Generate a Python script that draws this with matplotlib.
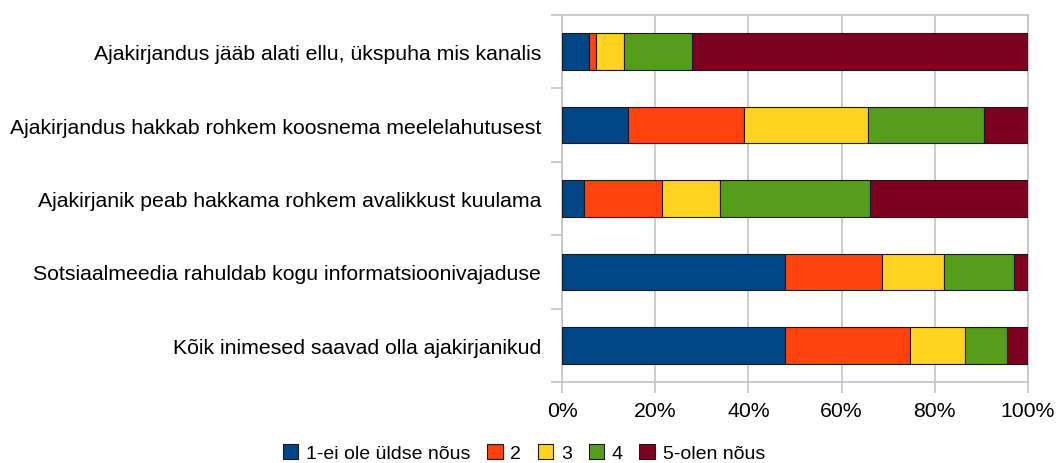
import numpy as np
import matplotlib
matplotlib.use("Agg")
import matplotlib.pyplot as plt
from matplotlib.ticker import FixedLocator, PercentFormatter

plt.rcParams['font.family'] = ['Liberation Sans', 'DejaVu Sans']

# statements, top to bottom
labels = [
    "Ajakirjandus jääb alati ellu, ükspuha mis kanalis",
    "Ajakirjandus hakkab rohkem koosnema meelelahutusest",
    "Ajakirjanik peab hakkama rohkem avalikkust kuulama",
    "Sotsiaalmeedia rahuldab kogu informatsioonivajaduse",
    "Kõik inimesed saavad olla ajakirjanikud",
]
series_names = ["1-ei ole üldse nõus", "2", "3", "4", "5-olen nõus"]

# share of answers (%), one list per answer level
s1 = [5.9, 14.1, 4.7, 47.8, 47.8]
s2 = [1.5, 25.0, 16.8, 20.9, 26.8]
s3 = [5.8, 26.5, 12.4, 13.3, 11.9]
s4 = [14.8, 25.0, 32.3, 15.0, 8.9]
s5 = [72.0, 9.4, 33.8, 3.0, 4.6]

colors = ['#004586', '#FF420E', '#FFD320', '#579D1C', '#7E0021']
GRID = '#c4c4c4'
FS = 15.3

fig = plt.figure(figsize=(10.56, 4.64), dpi=100)
ax = fig.add_axes([562/1056, 1 - 383/464, 466/1056, 367/464])

y = np.arange(len(labels))
left = np.zeros(len(labels))
for vals, name, c in zip([s1, s2, s3, s4, s5], series_names, colors):
    ax.barh(y, vals, left=left, height=0.5, color=c, edgecolor='#1a1a1a',
            linewidth=0.8, label=name, zorder=3)
    left += np.array(vals)

ax.set_xlim(0, 100)
ax.set_ylim(len(labels) - 0.5, -0.5)

ax.set_xticks(np.arange(0, 101, 20))
ax.xaxis.set_major_formatter(PercentFormatter(decimals=0))
ax.grid(axis='x', color=GRID, linewidth=1.2, zorder=0)
ax.tick_params(axis='x', length=8, width=1.2, color=GRID, pad=6, labelsize=FS)

ax.set_yticks(y)
ax.set_yticklabels(labels)
ax.yaxis.set_minor_locator(FixedLocator(np.arange(-0.5, len(labels), 1)))
ax.tick_params(axis='y', which='major', length=0, pad=15, labelsize=FS)
ax.tick_params(axis='y', which='minor', length=8, width=1.2, color=GRID)

for sp in ax.spines.values():
    sp.set_color(GRID)
    sp.set_linewidth(1.2)

fig.legend(loc='center', bbox_to_anchor=(524 / 1056, 1 - 454 / 464),
           ncol=5, frameon=False, fontsize=14, handlelength=0.8, handleheight=0.8,
           handletextpad=0.4, columnspacing=0.85, borderaxespad=0, borderpad=0)

fig.savefig('out.png', dpi=100)
